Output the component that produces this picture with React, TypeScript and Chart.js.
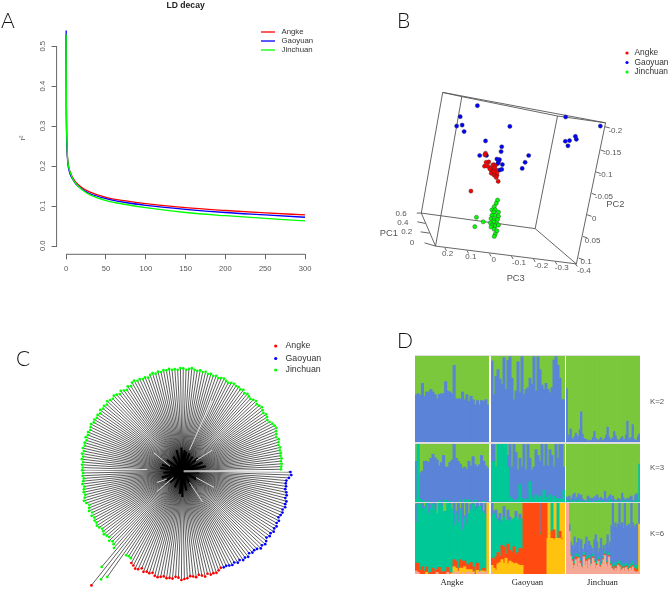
import React, { useEffect, useRef } from "react";
import { Chart, registerables } from "chart.js";

Chart.register(...registerables);

const SANS = "'Liberation Sans', Arial, sans-serif";
const SERIF = "'Liberation Serif', serif";

// ---------- Panel A: LD decay ----------
const populations = ["Angke", "Gaoyuan", "Jinchuan"];
const popColors = ["#ff0000", "#0000ff", "#00ff00"];
const ldDistance = [0, 0.3, 1, 2, 3, 5, 8, 12, 20, 30, 50, 75, 100, 150, 200, 250, 300];
const ldAngke = [0.53, 0.34, 0.25, 0.215, 0.2, 0.186, 0.172, 0.16, 0.146, 0.135, 0.122, 0.113, 0.106, 0.096, 0.089, 0.083, 0.078];
const ldGaoyuan = [0.54, 0.34, 0.25, 0.21, 0.195, 0.18, 0.168, 0.156, 0.142, 0.131, 0.119, 0.109, 0.102, 0.092, 0.084, 0.078, 0.072];
const ldJinchuan = [0.53, 0.35, 0.26, 0.215, 0.2, 0.185, 0.17, 0.157, 0.141, 0.128, 0.114, 0.104, 0.096, 0.084, 0.076, 0.069, 0.063];
const ldXTicks = [0, 50, 100, 150, 200, 250, 300];
const ldYTicks = [0, 0.1, 0.2, 0.3, 0.4, 0.5];

// ---------- Panel B: 3D PCA, projected onto the page plane ----------
const pcaAngke = [[435,460],[433,465],[445,487],[437,488],[432,500],[442,500],[460,495],[465,498],[455,505],[452,512],[460,512],[468,512],[458,520],[465,520],[453,522],[462,528],[470,528],[468,535],[474,547],[390,577],[457,498],[463,505],[470,520],[448,508],[461,516]];
const pcaGaoyuan = [[410,313],[357,347],[346,376],[363,373],[369,393],[510,377],[682,348],[789,376],[681,423],[694,421],[689,437],[712,408],[715,417],[435,422],[485,440],[483,455],[417,467],[438,467],[470,478],[478,480],[475,487],[473,492],[487,495],[485,510],[478,512],[568,467],[557,488],[548,507]];
const pcaJinchuan = [[472,605],[468,615],[462,625],[455,635],[465,635],[460,642],[475,642],[455,652],[465,652],[475,655],[452,662],[462,665],[472,665],[460,672],[450,675],[470,678],[455,682],[465,685],[475,682],[452,688],[462,695],[470,700],[465,710],[462,717],[407,658],[428,672],[402,687]];
const boxEdges = [[303,272,805,366],[303,272,237,645],[237,645,281,747],[281,747,715,802],[805,366,715,802],[362,285,281,747],[657,345,588,693],[237,645,588,693],[588,693,715,802],[362,285,657,345],[657,345,805,366],[303,272,362,285],
  [803,378,818,382],[790,450,804,455],[776,518,790,523],[762,584,776,589],[748,650,762,655],[735,717,749,722],[722,784,736,789],
  [237,645,223,645],[250,677,225,672],[262,707,235,703],[281,747,247,737],
  [310,753,315,762],[378,761,383,770],[447,770,452,779],[515,778,520,787],[583,787,588,796],[650,795,655,804],[712,802,718,810]];
const boxLabels: [string, number, number][] = [["-0.2",835,390],["-0.15",825,460],["-0.1",805,527],["-0.05",800,595],["0",770,663],["0.05",765,730],["0.1",745,797],["-0.4",738,822],["0.6",175,648],["0.4",180,675],["0.2",192,703],["0",208,737],["0.2",318,772],["0.1",390,780],["0",460,790],["-0.1",538,800],["-0.2",607,808],["-0.3",670,815]];
const boxTitles: [string, number, number][] = [["PC2",835,618],["PC1",137,707],["PC3",528,848]];

// ---------- Panel C: radial tree, branch length of each leaf in layout order ----------
const treeHub = [548, 485];
const treeStartAngle = 0.5;
const branchGaoyuan = [332,335,328,321,320,322,321,326,329,327,333,332,335,330,333,331,328,334,331,336,333,337,332,335,330,336,340,335,339,332,329,331,326,333,329,332,326,330,324,328,325,322,323];
const branchAngke = [321,326,331,329,331,326,333,328,324,330,327,325,331,333,336,329,327,333,332,334,330,333,336,334,327,331,329,333,325,332,334,328,324];
const branchJinchuanNear = [312,310,312,400,417];
const branchAngkeFar = [450];
const branchJinchuanFar = [386];
const branchJinchuan = [317,309,305,311,303,306,310,306,304,309,312,308,310,306,311,305,312,308,304,311,316,311,307,310,308,305,310,306,304,307,305,308,306,309,306,311,308,313,309,314,310,313,309,315,311,314,310,313,316,311,314,310,313,309,315,311,314,310,316,312,309,314,311,306,312,307,303,311,306,314,316,311,313,309,311,307,313,316,312,316,313,317,315,318,314,316,313,318,317,313,316,319,315,313,316,312,315,310,313,309,312,308,311,313,309,307,311,313,310,312,309,313,307,311,308,306,310,313,308,311,314,310,307,311,309,305,308,313,316,318,313,310,307,312,309,306,309,306,308,305,307,304,306,304,303];
const treeHubStar = [[545,412],[530,420],[555,420],[520,440],[500,450],[485,465],[480,475],[490,490],[485,505],[495,515],[510,520],[525,535],[540,555],[548,565],[560,545],[575,530],[590,510],[600,490],[620,470],[610,458],[595,445],[580,440],[570,430],[560,425]];
const treeGaps = [[570,420,638,268],[552,484,872,483],[552,487,872,486],[440,480,250,482],[460,428,510,470],[470,548,520,505],[640,420,590,452],[645,535,590,505],[610,580,570,520],[500,510,470,520]];

// ---------- Panel D: admixture, cumulative membership (%) per individual ----------
const clusterBlue = "#5b84d8", clusterGreen = "#7bc83c", clusterTeal = "#00c896", clusterRed = "#ff4a12", clusterYellow = "#ffc20e", clusterPink = "#f4a896";

const k2AngkeBlue = [55,56,54,68,53,58,58,61,58,55,50,55,56,56,70,59,58,56,89,50,50,50,58,49,55,47,53,49,43,48,43,48,47,49,43];
const k2GaoyuanBlue = [94,55,76,84,73,67,98,61,95,99,74,49,59,93,57,99,55,61,63,74,67,99,59,99,84,66,61,68,61,57,63,95,99,89,74,49,49];
const k2JinchuanBlue = [62,3,8,15,4,2,6,10,3,7,14,35,9,4,2,3,1,1,2,1,5,12,4,2,1,3,5,1,2,4,8,17,6,3,2,5,12,7,3,1,2,4,6,2,3,8,24,4,2,5,20,3,1,2,6,9];

const k3AngkeTeal = [5,100,5,2,1,0,1,0,0,0,0,2,0,0,3,0,1,0,0,0,0,3,0,4,2,4,0,0,3,0,0,0,1,0,0];
const k3AngkeBlue = [70,100,50,53,70,70,68,75,82,76,72,62,68,80,60,60,68,72,100,75,70,65,58,60,56,70,62,78,64,60,64,80,70,62,58];
const k3GaoyuanTeal = [70,70,60,100,100,100,100,100,60,8,5,2,3,5,30,6,2,5,2,35,8,2,12,6,10,3,20,8,2,12,3,10,6,5,5,4,20];
const k3GaoyuanBlue = [100,100,60,100,100,100,100,100,80,100,60,100,85,55,75,60,100,55,100,75,55,60,90,80,70,100,62,100,62,90,80,60,100,75,100,100,60];
const k3JinchuanTeal = [3,2,1,0,2,3,0,1,2,4,0,1,0,1,0,0,3,2,1,0,0,2,1,0,3,1,0,2,0,1,0,0,2,4,1,0,0,1,0,2,0,0,1,3,0,0,2,0,0,1,0,0,2,3,0,65];
const k3JinchuanBlue = [8,5,10,3,6,12,15,4,8,14,9,12,5,3,1,2,10,8,4,6,3,9,4,12,7,3,8,5,4,18,6,3,9,12,5,10,4,2,3,6,4,2,15,7,3,4,6,3,8,10,3,2,12,14,5,65];

const k6AngkePink = [4,2,0,0,0,0,0,0,0,0,2,0,0,0,0,2,0,0,3,2,3,0,2,0,2,3,0,2,0,0,3,2,0,3,0];
const k6AngkeYellow = [4,2,0,0,0,2,0,0,0,0,2,0,0,0,0,2,0,1,10,8,4,8,8,10,6,6,6,3,0,5,3,4,4,3,100];
const k6AngkeRed = [15,15,5,10,4,10,1,2,8,3,6,9,2,3,3,9,2,1,20,18,8,20,18,18,14,12,16,10,2,15,3,3,8,4,100];
const k6AngkeTeal = [72,98,98,92,92,100,85,92,98,90,85,100,95,88,85,100,98,92,68,85,72,90,62,80,70,85,90,98,88,92,95,88,85,80,100];
const k6AngkeBlue = [98,100,98,100,95,100,100,98,100,100,85,100,100,88,88,100,100,92,100,88,100,92,100,82,100,85,98,100,95,100,95,100,88,100,100];

const k6GaoyuanPink = [2,0,0,0,0,0,0,0,0,0,0,0,0,0,0,0,0,0,0,0,0,0,0,0,0,0,0,0,0,0,0,0,0,0,0,0,0];
const k6GaoyuanYellow = [12,8,5,14,16,20,15,22,14,18,16,14,15,13,12,12,0,0,0,0,0,0,0,0,0,0,0,0,50,50,50,48,50,50,50,48,50];
const k6GaoyuanRed = [22,20,24,30,25,40,38,28,42,33,30,38,28,30,36,35,100,100,100,100,100,100,100,100,55,100,100,100,50,50,60,62,50,50,60,50,50];
const k6GaoyuanTeal = [82,85,78,75,72,76,80,75,76,74,76,78,80,76,76,78,100,100,100,100,100,100,100,100,58,100,100,100,50,50,100,62,50,100,60,50,50];
const k6GaoyuanBlue = [100,88,90,78,85,76,95,75,90,80,76,78,88,76,84,78,100,100,100,100,100,100,100,100,100,100,100,100,50,50,100,62,50,100,60,50,50];
const k6GaoyuanGreen = [100,100,100,100,100,100,100,100,100,100,100,100,100,100,100,100,100,100,100,100,100,100,100,100,100,100,100,100,50,50,100,62,50,100,60,50,50];

const k6JinchuanPink = [100,100,60,25,18,8,12,20,10,22,15,10,8,24,12,18,8,20,10,14,22,16,8,12,18,10,9,14,20,26,14,10,24,12,8,6,4,8,5,12,10,3,6,8,4,9,6,3,8,5,10,4,2,3,2,3];
const k6JinchuanYellow = [100,100,60,25,18,8,12,20,10,22,15,10,8,24,12,18,8,20,10,14,22,16,8,12,18,10,9,14,20,26,14,10,24,12,8,6,4,8,5,12,10,3,6,8,4,9,6,3,8,5,10,4,2,3,2,70];
const k6JinchuanRed = [100,100,60,27,20,10,14,24,12,23,18,11,10,26,14,20,9,22,11,16,24,18,10,14,20,12,10,16,22,28,16,12,26,14,10,8,6,11,8,14,12,6,8,10,6,11,8,6,10,7,12,8,5,6,8,70];
const k6JinchuanTeal = [100,100,60,30,24,12,18,28,16,27,20,14,12,30,16,24,12,26,14,20,28,20,12,18,24,16,12,20,26,32,18,14,30,18,14,12,10,16,12,18,18,10,12,14,10,15,12,10,14,12,18,12,10,12,14,70];
const k6JinchuanBlue = [100,100,70,45,40,35,52,38,44,50,30,48,35,30,42,52,34,46,40,36,30,48,55,45,30,36,50,35,40,30,42,55,38,45,68,100,66,72,65,70,100,68,72,64,100,68,66,70,65,100,72,64,68,70,66,100];

type Layer = [string, number[] | null];
const pageX = [415, 490.5, 565.5];
const pageW = [74, 74, 74];
const rowsD = [
  { k: "K=2", top: 356, height: 86, lab: 402, cells: [
    [[clusterBlue, k2AngkeBlue], [clusterGreen, null]],
    [[clusterBlue, k2GaoyuanBlue], [clusterGreen, null]],
    [[clusterBlue, k2JinchuanBlue], [clusterGreen, null]],
  ] as Layer[][] },
  { k: "K=3", top: 443.5, height: 58, lab: 468, cells: [
    [[clusterTeal, k3AngkeTeal], [clusterBlue, k3AngkeBlue], [clusterGreen, null]],
    [[clusterTeal, k3GaoyuanTeal], [clusterBlue, k3GaoyuanBlue], [clusterGreen, null]],
    [[clusterTeal, k3JinchuanTeal], [clusterBlue, k3JinchuanBlue], [clusterGreen, null]],
  ] as Layer[][] },
  { k: "K=6", top: 503, height: 71, lab: 534, cells: [
    [[clusterPink, k6AngkePink], [clusterYellow, k6AngkeYellow], [clusterRed, k6AngkeRed], [clusterTeal, k6AngkeTeal], [clusterBlue, k6AngkeBlue], [clusterGreen, null]],
    [[clusterPink, k6GaoyuanPink], [clusterYellow, k6GaoyuanYellow], [clusterRed, k6GaoyuanRed], [clusterTeal, k6GaoyuanTeal], [clusterBlue, k6GaoyuanBlue], [clusterGreen, k6GaoyuanGreen], [clusterYellow, null]],
    [[clusterPink, k6JinchuanPink], [clusterYellow, k6JinchuanYellow], [clusterRed, k6JinchuanRed], [clusterTeal, k6JinchuanTeal], [clusterBlue, k6JinchuanBlue], [clusterGreen, null]],
  ] as Layer[][] },
];

// ---------- helpers ----------
const segments = (pairs: number[][]) =>
  pairs.flatMap(([a, b, c, d]) => [{ x: a, y: b }, { x: c, y: d }, { x: null as any, y: null as any }]);
const points = (list: number[][]) => list.map(([x, y]) => ({ x, y }));
const flatScales = (w: number, h: number) => ({
  x: { type: "linear", min: 0, max: w, display: false },
  y: { type: "linear", min: 0, max: h, reverse: true, display: false },
});

function keyPlugin(kind: "line" | "dot", xMark: number, xText: number, ys: number[], size: number) {
  return {
    id: "keyPlugin",
    afterDraw(chart: any) {
      const c = chart.ctx;
      c.save();
      populations.forEach((name, i) => {
        c.fillStyle = popColors[i];
        c.strokeStyle = popColors[i];
        if (kind === "line") {
          c.lineWidth = 1.3;
          c.beginPath(); c.moveTo(xMark, ys[i]); c.lineTo(xMark + 14, ys[i]); c.stroke();
        } else {
          c.beginPath(); c.arc(xMark, ys[i], 1.6, 0, Math.PI * 2); c.fill();
        }
        c.fillStyle = "#333";
        c.font = `${size}px ${SANS}`;
        c.textAlign = "left";
        c.textBaseline = "middle";
        c.fillText(name, xText, ys[i]);
      });
      c.restore();
    },
  };
}

const rAxisLines = {
  id: "rAxisLines",
  afterDraw(chart: any) {
    const { x, y } = chart.scales;
    const c = chart.ctx;
    c.save();
    c.strokeStyle = "#666";
    c.lineWidth = 1;
    c.beginPath();
    c.moveTo(x.getPixelForValue(ldXTicks[0]), x.top);
    c.lineTo(x.getPixelForValue(ldXTicks[ldXTicks.length - 1]), x.top);
    c.moveTo(y.right, y.getPixelForValue(ldYTicks[0]));
    c.lineTo(y.right, y.getPixelForValue(ldYTicks[ldYTicks.length - 1]));
    c.stroke();
    c.restore();
  },
};

const boxText = {
  id: "boxText",
  afterDraw(chart: any) {
    const { x, y } = chart.scales;
    const c = chart.ctx;
    c.save();
    c.fillStyle = "#555";
    c.textAlign = "center";
    c.textBaseline = "middle";
    c.font = `8px ${SANS}`;
    boxLabels.forEach(([t, a, b]) => c.fillText(t, x.getPixelForValue(a), y.getPixelForValue(b)));
    c.font = `9.3px ${SANS}`;
    boxTitles.forEach(([t, a, b]) => c.fillText(t, x.getPixelForValue(a), y.getPixelForValue(b)));
    c.restore();
  },
};

function buildA(cv: HTMLCanvasElement) {
  const series = [ldAngke, ldGaoyuan, ldJinchuan];
  const axisFont = { size: 7.6, family: SANS };
  return new Chart(cv, {
    type: "line",
    data: {
      datasets: populations.map((label, i) => ({
        label,
        data: ldDistance.map((x, j) => ({ x, y: series[i][j] })),
        borderColor: popColors[i],
        borderWidth: 1.3,
        pointRadius: 0,
        cubicInterpolationMode: "monotone",
        order: 3 - i,
      })),
    },
    plugins: [rAxisLines, keyPlugin("line", 261, 281.5, [32, 41, 50], 7.8)],
    options: {
      animation: false,
      responsive: false,
      layout: { padding: { right: 25.4, left: 0, top: 0, bottom: 0 } },
      plugins: {
        legend: { display: false },
        tooltip: { enabled: false },
        title: { display: true, text: "LD decay", fullSize: false, color: "#222", font: { size: 8.6, weight: "bold", family: SANS }, padding: { top: 0, bottom: 11.6 } },
      },
      scales: {
        x: {
          type: "linear", min: -12, max: 312,
          afterBuildTicks: (s: any) => { s.ticks = ldXTicks.map((value) => ({ value })); },
          afterFit: (s: any) => { s.height = 35.7; },
          grid: { drawOnChartArea: false, drawTicks: true, tickLength: 5, color: "#666" },
          border: { display: false },
          ticks: { color: "#555", font: axisFont, padding: 5, maxRotation: 0, autoSkip: false },
        },
        y: {
          type: "linear", min: -0.0208, max: 0.5616,
          afterBuildTicks: (s: any) => { s.ticks = ldYTicks.map((value) => ({ value })); },
          afterFit: (s: any) => { s.width = 56.6; },
          grid: { drawOnChartArea: false, drawTicks: true, tickLength: 5, color: "#666" },
          border: { display: false },
          title: { display: true, text: "r²", color: "#555", font: { size: 7.5, family: SANS }, padding: { top: 18, bottom: 0 } },
          ticks: { color: "#555", font: axisFont, padding: 8.5, minRotation: 90, maxRotation: 90, labelOffset: -5.5, autoSkip: false, callback: (v: any) => Number(v).toFixed(1) },
        },
      },
    },
  } as any);
}

function buildB(cv: HTMLCanvasElement) {
  const clouds = [pcaAngke, pcaGaoyuan, pcaJinchuan];
  return new Chart(cv, {
    type: "scatter",
    data: {
      datasets: [
        ...populations.map((label, i) => ({
          label,
          data: points(clouds[i]),
          backgroundColor: popColors[i],
          borderColor: "#333",
          borderWidth: 0.4,
          pointRadius: 2.1,
          order: i === 1 ? 2 : 1,
        })),
        { label: "box", data: segments(boxEdges), showLine: true, spanGaps: false, borderColor: "#555", borderWidth: 0.9, pointRadius: 0, order: 5 },
      ],
    },
    plugins: [boxText, keyPlugin("dot", 287, 294.5, [53, 62.5, 72], 8.4)],
    options: {
      animation: false, responsive: false,
      layout: { padding: 0 },
      plugins: { legend: { display: false }, tooltip: { enabled: false } },
      scales: flatScales(987, 900),
    },
  } as any);
}

function buildC(cv: HTMLCanvasElement) {
  // Leaves follow the tree's layout order, evenly spaced round the hub.
  const layoutOrder: [number, number[]][] = [[1, branchGaoyuan], [0, branchAngke], [2, branchJinchuanNear], [0, branchAngkeFar], [2, branchJinchuanFar], [2, branchJinchuan]];
  const total = layoutOrder.reduce((s, [, r]) => s + r.length, 0);
  const groups: number[][][] = [[], [], []];
  let n = 0;
  layoutOrder.forEach(([g, radii]) => radii.forEach((r) => {
    const t = ((treeStartAngle + (n * 360) / total) * Math.PI) / 180;
    groups[g].push([treeHub[0] + r * Math.cos(t), treeHub[1] + r * Math.sin(t)]);
    n += 1;
  }));
  const all = groups.flat();
  return new Chart(cv, {
    type: "scatter",
    data: {
      datasets: [
        ...populations.map((label, i) => ({
          label, data: points(groups[i]), backgroundColor: popColors[i], borderWidth: 0, pointRadius: 1.35, order: 0,
        })),
        { label: "gaps", data: segments(treeGaps), showLine: true, spanGaps: false, borderColor: "rgba(255,255,255,0.75)", borderWidth: 1, pointRadius: 0, order: 1 },
        { label: "inner branches", data: segments(treeHubStar.map(([x, y]) => [treeHub[0], treeHub[1], x, y])), showLine: true, spanGaps: false, borderColor: "#000", borderWidth: 2.2, pointRadius: 0, order: 2 },
        { label: "branches", data: segments(all.map(([x, y]) => [treeHub[0], treeHub[1], x, y])), showLine: true, spanGaps: false, borderColor: "rgba(0,0,0,0.8)", borderWidth: 0.8, pointRadius: 0, order: 3 },
      ],
    },
    plugins: [keyPlugin("dot", 275.7, 285.5, [346, 358.5, 370].map((v) => v - 310), 8.8)],
    options: {
      animation: false, responsive: false,
      layout: { padding: 0 },
      plugins: { legend: { display: false }, tooltip: { enabled: false } },
      scales: flatScales(1020, 855),
    },
  } as any);
}

function buildCell(cv: HTMLCanvasElement, layers: Layer[]) {
  const n = (layers[0][1] as number[]).length;
  const labels = Array.from({ length: n }, (_, i) => String(i + 1));
  const datasets = layers.map(([color, tops], li) => ({
    label: `cluster ${li + 1}`,
    backgroundColor: color,
    borderWidth: 0,
    inflateAmount: 0.5,
    barPercentage: 1,
    categoryPercentage: 1,
    data: labels.map((_, i) => {
      const prev = li === 0 ? 0 : (layers.slice(0, li).reduce((m, l) => Math.max(m, (l[1] as number[])[i]), 0));
      const top = tops ? tops[i] : 100;
      const share = top - prev;
      return share > 0 ? share : null;
    }),
  }));
  return new Chart(cv, {
    type: "bar",
    data: { labels, datasets },
    options: {
      animation: false, responsive: false,
      layout: { padding: 0 },
      plugins: { legend: { display: false }, tooltip: { enabled: false } },
      scales: {
        x: { stacked: true, display: false },
        y: { stacked: true, display: false, min: 0, max: 100 },
      },
    },
  } as any);
}

const groupNames = ["Angke", "Gaoyuan", "Jinchuan"];
const panelLetters: [string, number, number][] = [["A", 1, 7], ["B", 397, 7], ["C", 16, 345], ["D", 397, 327]];
const abs = (left: number, top: number): React.CSSProperties => ({ position: "absolute", left, top, display: "block" });

export default function App() {
  const a = useRef<HTMLCanvasElement>(null);
  const b = useRef<HTMLCanvasElement>(null);
  const c = useRef<HTMLCanvasElement>(null);
  const cells = useRef<(HTMLCanvasElement | null)[]>([]);

  useEffect(() => {
    const charts: Chart[] = [buildA(a.current!), buildB(b.current!), buildC(c.current!)];
    rowsD.forEach((row, r) => row.cells.forEach((layers, col) => {
      charts.push(buildCell(cells.current[r * 3 + col]!, layers));
    }));
    return () => charts.forEach((ch) => ch.destroy());
  }, []);

  return (
    <div style={{ position: "absolute", left: 0, top: 0, width: 669, height: 595, background: "#fff", overflow: "hidden", filter: "blur(0.4px)" }}>
      <canvas ref={a} width={340} height={290} style={abs(0, 0)} />
      <canvas ref={b} width={329} height={300} style={abs(340, 0)} />
      <canvas ref={c} width={340} height={285} style={abs(0, 310)} />
      <div style={{ ...abs(415, 355), width: 225, height: 1, background: "#ddd" }} />
      <div style={{ ...abs(415, 442), width: 225, height: 1.5, background: "#ddd" }} />
      <div style={{ ...abs(415, 501.2), width: 225, height: 1.8, background: "#ddd" }} />
      {rowsD.flatMap((row, r) => row.cells.map((_, col) => (
        <canvas key={`${r}-${col}`} ref={(el) => { cells.current[r * 3 + col] = el; }} width={pageW[col]} height={row.height} style={abs(pageX[col], row.top)} />
      )))}
      {rowsD.map((row) => (
        <div key={row.k} style={{ ...abs(650, row.lab - 5), font: `7.8px ${SANS}`, color: "#555", lineHeight: "10px", opacity: 0.99, willChange: "opacity" }}>{row.k}</div>
      ))}
      {groupNames.map((g, i) => (
        <div key={g} style={{ ...abs(pageX[i], 576), width: pageW[i], textAlign: "center", font: `8.7px ${SERIF}`, lineHeight: "12px", color: "#222", opacity: 0.99, willChange: "opacity" }}>{g}</div>
      ))}
      {panelLetters.map(([t, x, y]) => (
        <div key={t} style={{ ...abs(x, y), font: `300 21px Lato, 'Open Sans', sans-serif`, lineHeight: "26px", color: "#111", opacity: 0.99, willChange: "opacity" }}>{t}</div>
      ))}
    </div>
  );
}
